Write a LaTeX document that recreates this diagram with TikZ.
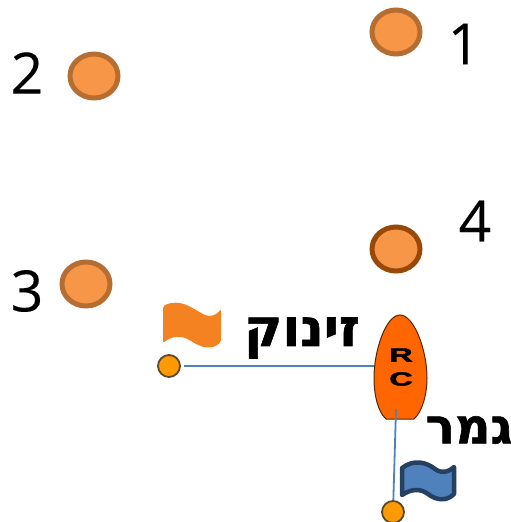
\documentclass[tikz,border=0pt]{standalone}
\usepackage{fontspec}
\setmainfont{Open Sans}
\newfontfamily\numfont[FakeBold=0.25]{Open Sans}
\newfontfamily\hebfont[Script=Hebrew,FakeBold=1.2]{DejaVu Sans Bold}
\newfontfamily\rcfont[FakeBold=2.2]{Liberation Sans Bold}
\TeXXeTstate=1
\definecolor{buoyfill}{HTML}{F79646}
\definecolor{buoyline}{HTML}{B66D31}
\definecolor{buoydark}{HTML}{984807}
\definecolor{markfill}{HTML}{FF9900}
\definecolor{markline}{HTML}{5A4A30}
\definecolor{boatfill}{HTML}{FF6600}
\definecolor{linkblue}{HTML}{4F81BD}
\definecolor{flagorange}{HTML}{F58220}
\definecolor{flagline}{HTML}{254061}
\usetikzlibrary{shapes.geometric}
\tikzset{
  buoy/.style={ellipse,minimum width=48pt,minimum height=44pt,inner sep=0pt,fill=buoyfill,draw=buoyline,line width=5pt},
  buoyfour/.style={buoy,draw=buoydark},
  marker/.style={circle,minimum size=22pt,inner sep=0pt,fill=markfill,draw=markline,line width=1.8pt},
  num/.style={font=\numfont\fontsize{57}{57}\selectfont,text=black,inner sep=0pt},
  hebrew/.style={font=\hebfont\fontsize{52}{52}\selectfont,text=black,inner sep=0pt},
  hebrewb/.style={font=\hebfont\fontsize{49}{49}\selectfont,text=black,inner sep=0pt},
  link/.style={draw=linkblue,line width=1.8pt},
  boatmark/.style={font=\rcfont\fontsize{19}{19}\selectfont,text=black,inner sep=0pt,xscale=1.7}
}
\begin{document}
\begin{tikzpicture}[x=1pt,y=-1pt]
\useasboundingbox (0,0) rectangle (511,522);
\node[buoy] (b1) at (396,32) {};
\node[buoy] (b2) at (94,76) {};
\node[buoy] (b3) at (86,284) {};
\node[buoyfour] (b4) at (396,249) {};
\node[num] (n1) at (464,44) {1};
\node[num] (n2) at (27,73) {2};
\node[num] (n3) at (27,291) {3};
\node[num] (n4) at (475,221) {4};
% boat
\fill[boatfill,draw=black!65!boatfill,line width=1pt] (400,315)
  .. controls (386,315) and (374,350) .. (374,378)
  .. controls (374,395) and (378,412) .. (386,419)
  -- (414,419)
  .. controls (422,412) and (427,395) .. (427,378)
  .. controls (427,350) and (414,315) .. (400,315) -- cycle;
\coordinate (boatleft) at (374,366);
\coordinate (boatstern) at (396,409);
\node[boatmark] (r) at (401,355) {R};
\node[boatmark] (c) at (401,379) {C};
\node[marker] (start) at (169,366) {};
\node[marker] (finish) at (393,512) {};
\draw[link,shorten <=3pt] (start) -- (boatleft);
\draw[link] (boatstern) -- (finish);
% flags
\fill[flagorange,rounded corners=2pt] (163,306)
  .. controls (180,298) and (192,308) .. (203,314)
  .. controls (209,317) and (216,316) .. (221,309)
  -- (221,342)
  .. controls (212,350) and (202,348) .. (191,341)
  .. controls (181,335) and (172,336) .. (163,343) -- cycle;
\draw[fill=linkblue,draw=flagline,line width=4.5pt,line join=round] (402,468)
  .. controls (414,459) and (426,462) .. (435,469)
  .. controls (442,474) and (449,472) .. (454,467)
  -- (454,494)
  .. controls (446,502) and (436,500) .. (428,494)
  .. controls (420,488) and (411,489) .. (402,495) -- cycle;
\node[hebrew] (zinuk) at (302,338) {\beginR זינוק\endR};
\node[hebrewb] (gomer) at (469,430) {\beginR גמר\endR};
\end{tikzpicture}
\end{document}
